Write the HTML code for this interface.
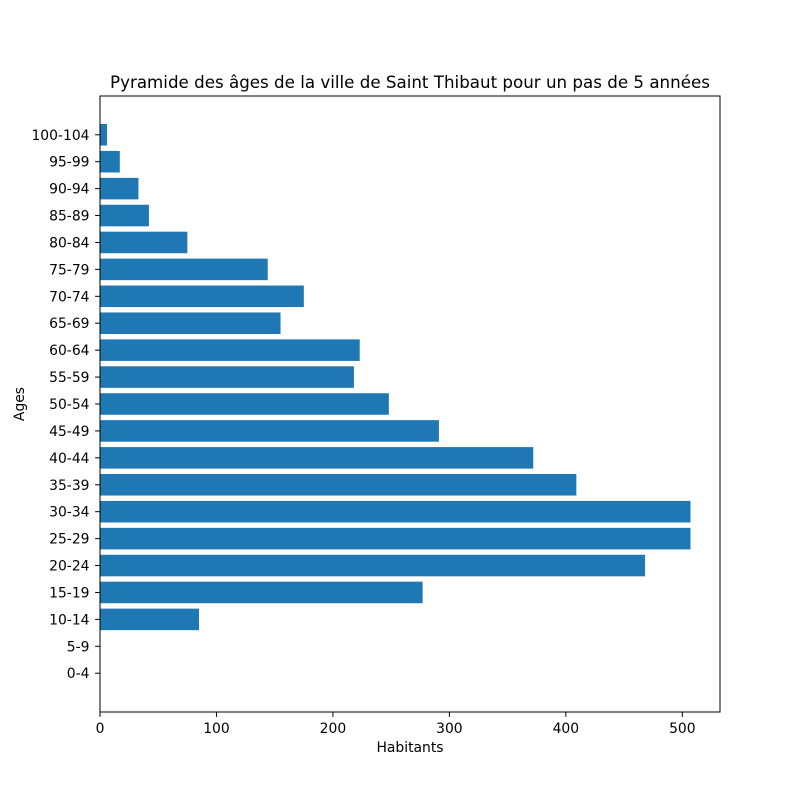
<!DOCTYPE html>
<html><head><meta charset="utf-8"><style>
body{margin:0;background:#fff;}
svg text{font-family:"DejaVu Sans","Liberation Sans",sans-serif;fill:#000;}
</style></head><body>
<svg id="chart" width="800" height="800" xmlns="http://www.w3.org/2000/svg">
<text x="410" y="88" text-anchor="middle" font-size="16.7">Pyramide des âges de la ville de Saint Thibaut pour un pas de 5 années</text>
<g id="bars"></g>
<rect x="100" y="96" width="620" height="616" fill="none" stroke="#000" stroke-width="1"/>
<g id="xticks"></g><g id="yticks"></g>
<text x="410" y="752" text-anchor="middle" font-size="13.9">Habitants</text>
<text x="24" y="404" text-anchor="middle" font-size="13.9" transform="rotate(-90 24 404)">Ages</text>
</svg>
<script>
const categories=["0-4","5-9","10-14","15-19","20-24","25-29","30-34","35-39","40-44","45-49","50-54","55-59","60-64","65-69","70-74","75-79","80-84","85-89","90-94","95-99","100-104"];
const values=[0,0,85,277,468,507,507,409,372,291,248,218,223,155,175,144,75,42,33,17,6];
const xTicks=[0,100,200,300,400,500];
const NS="http://www.w3.org/2000/svg";
const L=100,R=720,T=96,B=712;
const xmax=Math.max(...values)*1.05;
const x=v=>L+v/xmax*(R-L);
const n=categories.length;
const ylo=-0.4-0.05*(n-1+0.8),yhi=n-1+0.4+0.05*(n-1+0.8);
const y=v=>B-(v-ylo)/(yhi-ylo)*(B-T);
const mk=(t,a)=>{const e=document.createElementNS(NS,t);for(const k in a)e.setAttribute(k,a[k]);return e;};
const bars=document.getElementById('bars'),xt=document.getElementById('xticks'),yt=document.getElementById('yticks');
categories.forEach((c,i)=>{
 const r=mk('rect',{x:x(0),y:y(i+0.4),width:x(values[i])-x(0),height:y(i-0.4)-y(i+0.4),fill:'#1f77b4'});
 
 
 bars.appendChild(r);
 const tk=mk('line',{x1:L-4.9,x2:L,y1:y(i),y2:y(i),stroke:'#000'});
 
 
 yt.appendChild(tk);
 const tl=mk('text',{x:L-10.5,y:y(i)+5,'text-anchor':'end','font-size':'13.9'});
 tl.textContent=c;
 
 
 yt.appendChild(tl);
});
xTicks.forEach(v=>{
 const tk=mk('line',{x1:x(v),x2:x(v),y1:B,y2:B+4.9,stroke:'#000'});
 
 
 xt.appendChild(tk);
 const tl=mk('text',{x:x(v),y:B+21,'text-anchor':'middle','font-size':'13.9'});
 tl.textContent=v;
 
 
 xt.appendChild(tl);
});
</script>
</body></html>
